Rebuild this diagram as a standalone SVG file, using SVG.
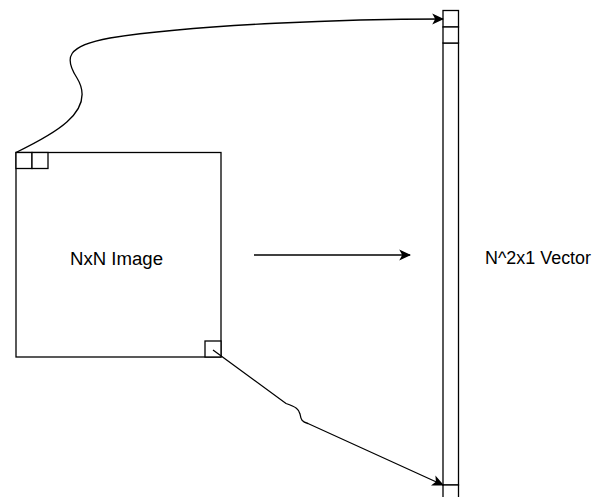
<svg xmlns="http://www.w3.org/2000/svg" width="599" height="497" viewBox="0 0 599 497">
<style>
.b{fill:#fff;stroke:#000;stroke-width:1.3}
.e{fill:none;stroke:#000;stroke-width:1.3}
.t{font-family:"Liberation Sans",Arial,sans-serif;font-size:18px;fill:#000}
</style>
<defs>
<marker id="a" viewBox="0 0 10 10" refX="9" refY="5" markerWidth="12" markerHeight="12" markerUnits="userSpaceOnUse" orient="auto">
<path d="M0,0.5 L10,5 L0,9.5 L2.5,5 Z" fill="#000"/>
</marker>
</defs>
<rect width="599" height="497" fill="#fff"/>
<g id="image">
<rect class="b" x="16" y="152.5" width="205" height="204.5"/>
<text class="t" x="116.5" y="264.5" text-anchor="middle" textLength="93" lengthAdjust="spacingAndGlyphs">NxN Image</text>
</g>
<g id="cell-tl1"><rect class="b" x="16" y="152.5" width="16" height="16"/></g>
<g id="cell-tl2"><rect class="b" x="32" y="152.5" width="16" height="16"/></g>
<g id="cell-br"><rect class="b" x="205" y="341" width="16" height="16"/></g>
<g id="vector">
<rect class="b" x="443" y="43" width="15.5" height="442"/>
<text class="t" x="485" y="264" textLength="106" lengthAdjust="spacingAndGlyphs">N^2x1 Vector</text>
</g>
<g id="cell-v1"><rect class="b" x="443" y="10.5" width="15.5" height="16.5"/></g>
<g id="cell-v2"><rect class="b" x="443" y="27" width="15.5" height="16"/></g>
<g id="cell-vn"><rect class="b" x="443" y="485" width="15.5" height="16"/></g>
<g id="connectors">
<path class="e" d="M16,152.5 C50,136 98,112 77,78 C64,58 66,46 110,38 C200,24 350,19 443,19" marker-end="url(#a)"/>
<path class="e" d="M213,350 L286,403.5 C296,407 299,409 300,414 C301,420 302,422 308,423.5 L443,485" marker-end="url(#a)"/>
<path class="e" d="M254,255 L410,255" marker-end="url(#a)"/>
</g>
</svg>
